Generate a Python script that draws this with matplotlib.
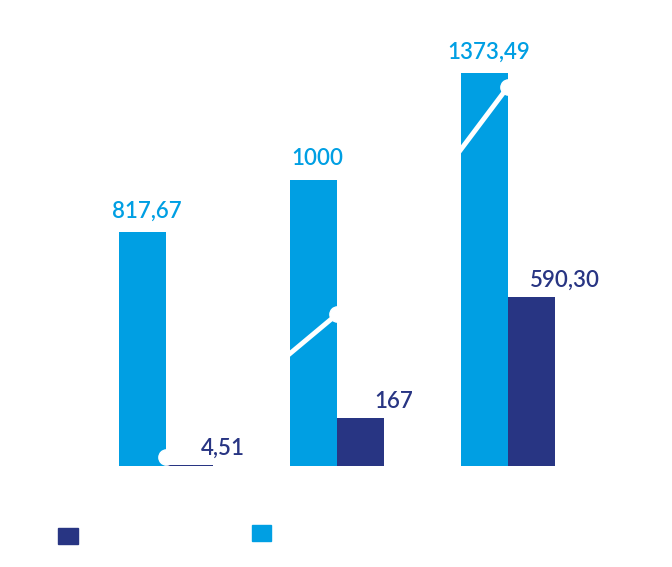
import matplotlib.pyplot as plt
from matplotlib.patches import Patch

groups = [0, 1, 2]
light_vals = [817.67, 1000, 1373.49]
dark_vals = [4.51, 167, 590.30]
light_labels = ["817,67", "1000", "1373,49"]
dark_labels = ["4,51", "167", "590,30"]
line_vals = [31, 530, 1325]

light = "#009fe3"
dark = "#283583"
w = 0.275

fig = plt.figure(figsize=(6.72, 5.67), dpi=100)
ax = fig.add_axes([0, 0, 1, 1])
ax.set_xlim(-0.971, 2.959)
ax.set_ylim(-353, 1628)
ax.axis("off")

xl = [g - w / 2 for g in groups]
xd = [g + w / 2 for g in groups]
ax.bar(xl, light_vals, width=w, color=light)
ax.bar(xd, dark_vals, width=w, color=dark)
ax.plot(groups, line_vals, color="white", lw=3.5, marker="o", ms=11, zorder=3)

for x, v, t in zip(xl, light_vals, light_labels):
    ax.annotate(t, (x, v), xytext=(3, 15), textcoords="offset points",
                ha="center", va="center", color=light, fontsize=16,
                family="Lato", fontweight="semibold")
for x, v, t in zip(xd, dark_vals, dark_labels):
    ax.annotate(t, (x, v), xytext=(24, 12), textcoords="offset points",
                ha="center", va="center", color=dark, fontsize=16,
                family="Lato", fontweight="semibold")

fig.legend([Patch(color=dark)], [" "], loc="lower left",
           bbox_to_anchor=(0.068, 0.018), frameon=False,
           handlelength=1.4, handleheight=1.4, fontsize=10)
fig.legend([Patch(color=light)], [" "], loc="lower left",
           bbox_to_anchor=(0.356, 0.023), frameon=False,
           handlelength=1.4, handleheight=1.4, fontsize=10)

fig.savefig("out.png")
